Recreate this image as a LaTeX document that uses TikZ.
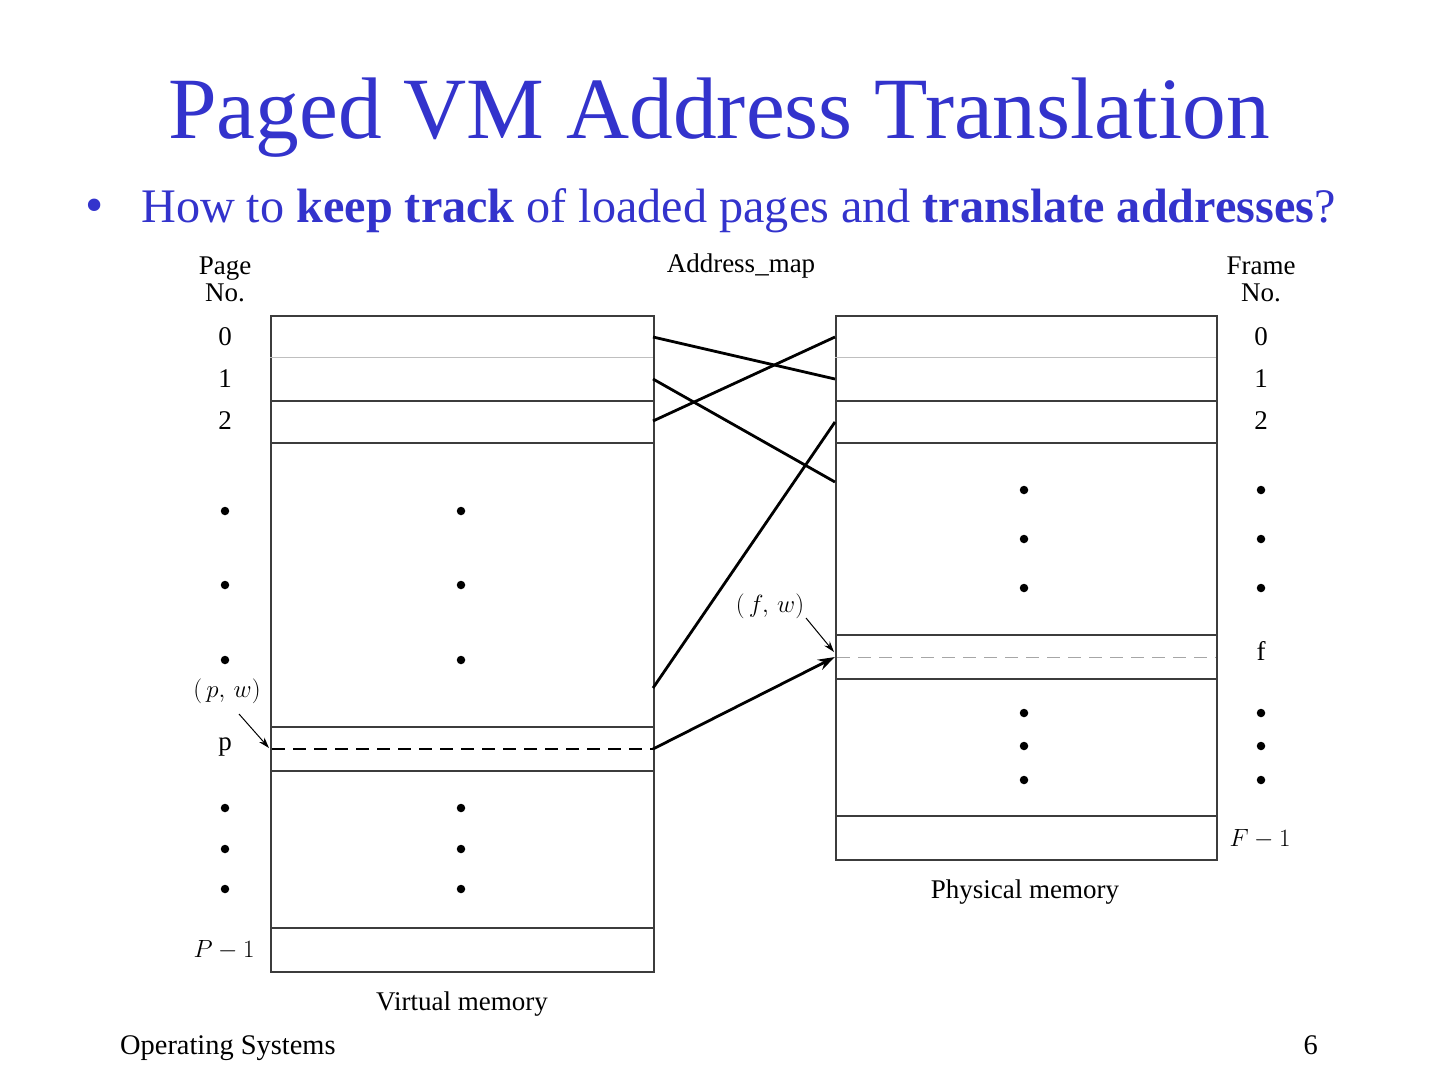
\documentclass[tikz,border=0pt]{standalone}
\usepackage{fontspec}
\setmainfont{Liberation Serif}
\usetikzlibrary{arrows.meta}
\definecolor{titleblue}{RGB}{51,51,204}
\definecolor{boxgray}{RGB}{60,60,60}
\tikzset{
  membox/.style={draw=boxgray, line width=1.6pt, fill=none},
  sepline/.style={draw=boxgray, line width=1.4pt},
  thinsep/.style={draw=black!25, line width=1pt},
  mapline/.style={draw=black, line width=2.8pt},
  lbl/.style={font=\fontsize{27}{30}\selectfont, inner sep=0pt},
  dotmark/.style={circle, fill=black, inner sep=0pt, minimum size=8.5pt},
  ptr/.style={draw=black, line width=1pt, -{Stealth[length=11pt,width=7pt]}},
}
\begin{document}
\begin{tikzpicture}[x=1pt,y=-1pt]
\useasboundingbox (0,0) rectangle (1440,1080);
% title
\node[text=titleblue, font=\fontsize{87.4}{90}\selectfont, anchor=base, inner sep=0pt] (title) at (719,138) {Paged VM Address Translation};
\node[text=titleblue, font=\fontsize{52}{54}\selectfont, anchor=base, inner sep=0pt] (bullet) at (95,222) {\textbullet};
\node[text=titleblue, font=\fontsize{48.2}{52}\selectfont, anchor=base west, inner sep=0pt] (sub) at (141,222) {How to \textbf{keep track} of loaded pages and \textbf{translate addresses}?};
% footer
\node[font=\fontsize{28.4}{30}\selectfont, anchor=base west, inner sep=0pt] (foot) at (120,1054) {Operating Systems};
\node[font=\fontsize{28.4}{30}\selectfont, anchor=base east, inner sep=0pt] (pagenum) at (1318,1054) {6};

% headers
\node[lbl, align=center] (pageno) at (225,279) {Page\\[-3pt]No.};
\node[lbl] (amap) at (741,266) {Address\_map};
\node[lbl, align=center] (frameno) at (1261,279) {Frame\\[-3pt]No.};

% virtual memory box
\node[membox, minimum width=383pt, minimum height=656pt, anchor=north west, inner sep=0pt] (vm) at (270,315) {};
\draw[thinsep] (270,357) -- (653,357);
\draw[sepline] (270,401) -- (653,401);
\draw[sepline] (270,443) -- (653,443);
\draw[sepline] (270,727) -- (653,727);
\draw[sepline] (270,771) -- (653,771);
\draw[sepline] (270,928) -- (653,928);
\draw[draw=black, line width=1.6pt, dash pattern=on 13pt off 8pt] (272,749) -- (653,749);
\node[lbl] (vmlabel) at (462,1004) {Virtual memory};

% physical memory box
\node[membox, minimum width=381pt, minimum height=544pt, anchor=north west, inner sep=0pt] (pm) at (835,315) {};
\draw[thinsep] (835,357) -- (1216,357);
\draw[sepline] (835,401) -- (1216,401);
\draw[sepline] (835,443) -- (1216,443);
\draw[sepline] (835,635) -- (1216,635);
\draw[sepline] (835,679) -- (1216,679);
\draw[sepline] (835,816) -- (1216,816);
\draw[draw=black!35, line width=1pt, dash pattern=on 13pt off 8pt] (837,657) -- (1216,657);
\node[lbl] (pmlabel) at (1025,892) {Physical memory};

% page numbers
\node[lbl] (p0) at (225,337) {0};
\node[lbl] (p1) at (225,379) {1};
\node[lbl] (p2) at (225,421) {2};
\node[dotmark] (pd1) at (225,511) {};
\node[dotmark] (pd2) at (225,585) {};
\node[dotmark] (pd3) at (225,660) {};
\node[lbl] (pp) at (225,747) {p};
\node[dotmark] (pd4) at (225,808) {};
\node[dotmark] (pd5) at (225,849) {};
\node[dotmark] (pd6) at (225,889) {};
\node[lbl] (pP) at (224,950) {$P-1$};

% vm middle dots
\node[dotmark] (vd1) at (461,511) {};
\node[dotmark] (vd2) at (461,585) {};
\node[dotmark] (vd3) at (461,660) {};
\node[dotmark] (vd4) at (461,808) {};
\node[dotmark] (vd5) at (461,849) {};
\node[dotmark] (vd6) at (461,889) {};

% pm middle dots
\node[dotmark] (md1) at (1024,490) {};
\node[dotmark] (md2) at (1024,539) {};
\node[dotmark] (md3) at (1024,588) {};
\node[dotmark] (md4) at (1024,713) {};
\node[dotmark] (md5) at (1024,746) {};
\node[dotmark] (md6) at (1024,780) {};

% frame numbers
\node[lbl] (f0) at (1261,337) {0};
\node[lbl] (f1) at (1261,379) {1};
\node[lbl] (f2) at (1261,421) {2};
\node[dotmark] (fd1) at (1261,490) {};
\node[dotmark] (fd2) at (1261,539) {};
\node[dotmark] (fd3) at (1261,588) {};
\node[lbl] (ff) at (1261,651) {f};
\node[dotmark] (fd4) at (1261,713) {};
\node[dotmark] (fd5) at (1261,746) {};
\node[dotmark] (fd6) at (1261,780) {};
\node[lbl] (fF) at (1260,839) {$F-1$};

% connector endpoints
\coordinate (va) at (653,337);
\coordinate (vb) at (653,379);
\coordinate (vc) at (653,421);
\coordinate (vd) at (653,688);
\coordinate (ve) at (653,749);
\coordinate (pa) at (835,379);
\coordinate (pb) at (835,482);
\coordinate (pc) at (835,337);
\coordinate (pd) at (835,422);
\coordinate (pe) at (835,657);
\draw[mapline] (va) -- (pa);
\draw[mapline] (vb) -- (pb);
\draw[mapline] (vc) -- (pc);
\draw[mapline] (vd) -- (pd);
\draw[mapline, -{Stealth[length=17pt,width=11pt]}] (ve) -- (pe);

% (p,w) and (f,w)
\node[lbl] (pw) at (227,691) {$(\,p,\,w)$};
\coordinate (pwtip) at (269,748);
\draw[ptr] (239,714) -- (pwtip);
\node[lbl] (fw) at (770,606) {$(\,f,\,w)$};
\coordinate (fwtip) at (834,652);
\draw[ptr] (806,618) -- (fwtip);
\end{tikzpicture}
\end{document}
